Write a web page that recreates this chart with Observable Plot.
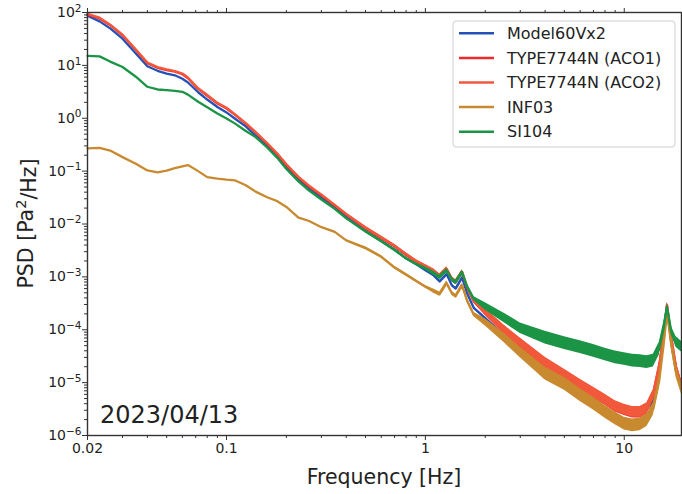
<!DOCTYPE html>
<html><head><meta charset="utf-8">
<script src="https://cdn.jsdelivr.net/npm/d3@7"></script>
<script src="https://cdn.jsdelivr.net/npm/@observablehq/plot@0.6"></script>
<style>body{margin:0;background:#fff;} #chart{width:682px;height:494px;}</style>
</head><body><div id="chart"></div>
<script>
// Frequency grid [Hz]
const freq = [0.02,0.023,0.026,0.03,0.035,0.04,0.045,0.05,0.055,0.06,0.064,0.072,0.08,0.09,0.1,0.11,0.125,0.14,0.16,0.18,0.2,0.23,0.26,0.3,0.35,0.4,0.5,0.6,0.7,0.8,0.9,1.0,1.1,1.18,1.28,1.36,1.42,1.53,1.62,1.75,2.0,2.5,3,4,5,6,7,8,9,10,11,12,13,14,15,15.8,16.4,17.2,18.2,19.5];

// PSD values [Pa^2/Hz]
const model60Vx2 = [87,68,50,32,16.8,9.6,7.9,7.0,6.5,5.6,4.75,3.1,2.26,1.63,1.29,0.99,0.70,0.47,0.30,0.19,0.118,0.069,0.047,0.031,0.0204,0.0135,0.0074,0.0048,0.0033,0.00224,0.00173,0.00133,0.00107,0.00082,0.00112,0.00069,0.0006,0.00097,0.00049,0.00026,0.000165,7.6e-5,4.1e-5,1.78e-5,9.3e-6,5.5e-6,3.5e-6,2.4e-6,1.86e-6,1.55e-6,1.41e-6,1.48e-6,1.95e-6,4.7e-6,1.7e-5,6.9e-5,2.5e-4,6.3e-5,1.7e-5,7.1e-6];
const type7744nACO1 = [91,77,57.5,37,19.5,11,9.0,8.1,7.6,6.8,5.7,3.6,2.66,1.9,1.53,1.17,0.79,0.54,0.33,0.21,0.13,0.076,0.051,0.035,0.0224,0.0151,0.0083,0.0054,0.0038,0.0026,0.00195,0.00158,0.00126,0.00102,0.00138,0.00089,0.00079,0.00122,0.00063,0.00035,0.000214,9.8e-5,5.5e-5,2.3e-5,1.38e-5,8.9e-6,6.3e-6,4.7e-6,3.5e-6,3.0e-6,2.7e-6,2.7e-6,3.2e-6,5.7e-6,1.95e-5,8.5e-5,2.9e-4,7.2e-5,1.95e-5,8.1e-6];
const type7744nACO2 = [94,80,59,38,20,11.3,9.3,8.4,7.8,7.0,5.9,3.7,2.75,1.96,1.58,1.2,0.81,0.55,0.34,0.215,0.135,0.078,0.053,0.036,0.023,0.0155,0.0086,0.0056,0.0039,0.0027,0.002,0.00162,0.0013,0.00105,0.00142,0.00092,0.00081,0.00125,0.00065,0.00036,0.00022,1.0e-4,5.7e-5,2.4e-5,1.42e-5,9.2e-6,6.5e-6,4.8e-6,3.6e-6,3.1e-6,2.8e-6,2.8e-6,3.3e-6,5.9e-6,2.0e-5,8.8e-5,3.0e-4,7.4e-5,2.0e-5,8.3e-6];
const inf03 = [0.27,0.275,0.245,0.184,0.138,0.103,0.095,0.102,0.114,0.123,0.13,0.1,0.077,0.072,0.069,0.067,0.054,0.041,0.032,0.027,0.021,0.0132,0.0114,0.0087,0.0071,0.0049,0.0035,0.0024,0.0015,0.0011,0.00083,0.00065,0.00054,0.00047,0.00076,0.00049,0.00043,0.00069,0.00036,0.000195,0.000138,6.9e-5,3.7e-5,1.48e-5,9.5e-6,5.8e-6,4.0e-6,2.8e-6,2.1e-6,1.68e-6,1.55e-6,1.62e-6,1.95e-6,3.2e-6,1.1e-5,5.5e-5,2.2e-4,5.5e-5,1.6e-5,7.1e-6];
const si104 = [15.1,14.8,11.8,9.3,6.1,3.94,3.5,3.4,3.3,3.16,2.8,2.05,1.62,1.23,0.99,0.80,0.575,0.44,0.28,0.178,0.11,0.064,0.043,0.029,0.0193,0.0128,0.0072,0.0047,0.0032,0.00223,0.00173,0.00145,0.00117,0.00098,0.00132,0.00089,0.00079,0.00122,0.00066,0.00039,0.000275,1.65e-4,1.07e-4,7.1e-5,5.6e-5,4.7e-5,4.0e-5,3.4e-5,3.0e-5,2.8e-5,2.6e-5,2.55e-5,2.45e-5,2.6e-5,4.4e-5,1.12e-4,2.7e-4,9.8e-5,5.9e-5,4.7e-5];

// Half-width of the noisy trace envelope [decades]
const spreadModel60 = [0,0,0,0,0,0,0,0,0,0,0,0,0,0,0,0,0,0,0,0,0.01,0.01,0.01,0.01,0.01,0.01,0.015,0.015,0.015,0.015,0.015,0.015,0.02,0.02,0.02,0.02,0.02,0.02,0.02,0.02,0.03,0.03,0.03,0.03,0.03,0.03,0.03,0.03,0.03,0.03,0.03,0.03,0.03,0.03,0.03,0.03,0.03,0.03,0.03,0.03];
const spreadACO = [0,0,0,0,0,0,0,0,0,0,0,0,0,0,0,0,0,0,0,0,0.01,0.01,0.01,0.01,0.01,0.01,0.025,0.025,0.025,0.025,0.025,0.025,0.04,0.04,0.04,0.04,0.04,0.04,0.04,0.04,0.06,0.08,0.09,0.1,0.1,0.1,0.1,0.1,0.1,0.1,0.1,0.1,0.1,0.1,0.1,0.08,0.05,0.07,0.09,0.09];
const spreadINF03 = [0,0,0,0,0,0,0,0,0,0,0,0,0,0,0,0,0,0,0,0,0.01,0.01,0.01,0.01,0.01,0.01,0.025,0.025,0.025,0.025,0.025,0.025,0.04,0.04,0.04,0.04,0.04,0.04,0.04,0.04,0.07,0.09,0.1,0.12,0.12,0.12,0.12,0.12,0.12,0.12,0.12,0.12,0.12,0.12,0.12,0.1,0.06,0.08,0.1,0.1];
const spreadSI104 = [0,0,0,0,0,0,0,0,0,0,0,0,0,0,0,0,0,0,0,0,0.01,0.01,0.01,0.01,0.01,0.01,0.025,0.025,0.025,0.025,0.025,0.025,0.04,0.04,0.04,0.04,0.04,0.04,0.04,0.04,0.07,0.09,0.1,0.12,0.12,0.12,0.12,0.12,0.12,0.12,0.12,0.12,0.12,0.12,0.12,0.1,0.06,0.08,0.1,0.1];

const seriesNames = ["Model60Vx2","TYPE7744N (ACO1)","TYPE7744N (ACO2)","INF03","SI104"];
const seriesColors = ["#2451b7","#ec2a2c","#f2583b","#c98a2f","#1c9445"];
const seriesValues = [model60Vx2, type7744nACO1, type7744nACO2, inf03, si104];
const seriesSpread = [spreadModel60, spreadACO, spreadACO, spreadINF03, spreadSI104];

const xTicks = [0.02, 0.1, 1, 10];
const xTickLabels = ["0.02","0.1","1","10"];
const yTicks = [1e-6,1e-5,1e-4,1e-3,1e-2,1e-1,1e0,1e1,1e2];
const yTickBase = "10";
const yTickExponents = ["−6","−5","−4","−3","−2","−1","0","1","2"];
const xTitle = "Frequency [Hz]";
const yTitleParts = ["PSD [Pa", "2", "/Hz]"];
const dateLabel = "2023/04/13";

// build table
const rows = [];
seriesNames.forEach((name, i) => {
  freq.forEach((f, j) => {
    const v = seriesValues[i][j], s = seriesSpread[i][j];
    rows.push({name, f, v, lo: v * Math.pow(10, -s), hi: v * Math.pow(10, s)});
  });
});

const xMinor = [], yMinor = [];
for (const d of [0.01, 0.1, 1]) for (let k = 2; k <= 9; k++) { const t = +(d*k).toPrecision(3); if (t > 0.02 && t < 19.4) xMinor.push(t); }
for (let e = -6; e < 2; e++) for (let k = 2; k <= 9; k++) yMinor.push(k * Math.pow(10, e));

const xLab = new Map(xTicks.map((t, i) => [t, xTickLabels[i]]));
const yLab = new Map(yTicks.map((t, i) => [t, yTickBase + "^" + yTickExponents[i]]));

const marks = [];
seriesNames.forEach((name, i) => {
  const data = rows.filter(r => r.name === name);
  marks.push(Plot.areaY(data, {x: "f", y1: "lo", y2: "hi", fill: seriesColors[i]}));
  marks.push(Plot.line(data, {x: "f", y: "v", stroke: seriesColors[i], strokeWidth: 2.3}));
});

const axisColor = "#333";
const plot = Plot.plot({
  width: 682, height: 494,
  marginLeft: 87, marginRight: 1, marginTop: 12, marginBottom: 59,
  style: {fontFamily: "DejaVu Sans", color: "#222", background: "#fff"},
  x: {type: "log", domain: [0.02, 19.4]},
  y: {type: "log", domain: [1e-6, 100]},
  marks: [
    ...marks,
    Plot.frame({stroke: axisColor, strokeWidth: 1.4}),
    Plot.axisX(xTicks, {tickFormat: d => xLab.get(d), tickSize: 5, tickPadding: 3, fontSize: 14, label: null, stroke: axisColor}),
    Plot.axisX(xMinor, {tickFormat: () => "", tickSize: 3, label: null, stroke: axisColor}),
    Plot.axisX(xTicks, {anchor: "top", tickFormat: () => "", tickSize: 5, label: null, stroke: axisColor}),
    Plot.axisX(xMinor, {anchor: "top", tickFormat: () => "", tickSize: 3, label: null, stroke: axisColor}),
    Plot.axisY(yTicks, {tickFormat: d => yLab.get(d), tickSize: 5, tickPadding: 1, fontSize: 14, label: null, stroke: axisColor}),
    Plot.axisY(yMinor, {tickFormat: () => "", tickSize: 3, label: null, stroke: axisColor})
  ]
});
document.getElementById("chart").appendChild(plot);

const svg = d3.select(plot);
// turn "10^e" tick labels into real superscripts
svg.selectAll("text").each(function() {
  const t = d3.select(this);
  const s = this.textContent;
  if (s.indexOf("^") > 0 && this.childElementCount === 0) {
    const [b, e] = s.split("^");
    t.text(null);
    t.append("tspan").text(b);
    t.append("tspan").attr("dy", "-0.5em").attr("font-size", "10.5px").text(e);
  }
});

svg.append("text").attr("x", 384).attr("y", 484).attr("text-anchor", "middle")
  .attr("font-size", 20.5).attr("fill", "#222").attr("font-family", "DejaVu Sans").text(xTitle);
const yt = svg.append("text").attr("transform", "translate(33,223.5) rotate(-90)").attr("text-anchor", "middle")
  .attr("font-size", 20.5).attr("fill", "#222").attr("font-family", "DejaVu Sans");
yt.append("tspan").text(yTitleParts[0]);
yt.append("tspan").attr("dy", "-0.45em").attr("font-size", "14.5px").text(yTitleParts[1]);
yt.append("tspan").attr("dy", "0.45em").text(yTitleParts[2]);
svg.append("text").attr("x", 100).attr("y", 423).attr("font-size", 24).attr("text-anchor", "start")
  .attr("fill", "#222").attr("font-family", "DejaVu Sans").text(dateLabel);

const lg = svg.append("g").attr("font-family", "DejaVu Sans").attr("text-anchor", "start");
lg.append("rect").attr("x", 453).attr("y", 21).attr("width", 222).attr("height", 126).attr("rx", 3)
  .attr("fill", "#fff").attr("fill-opacity", 0.85).attr("stroke", "#cfcfcf").attr("stroke-width", 1);
seriesNames.forEach((name, i) => {
  const yy = 33.3 + i * 24.6;
  lg.append("line").attr("x1", 459).attr("x2", 494).attr("y1", yy).attr("y2", yy)
    .attr("stroke", seriesColors[i]).attr("stroke-width", 2.5);
  lg.append("text").attr("x", 507).attr("y", yy).attr("dy", "0.36em").attr("font-size", 16)
    .attr("text-anchor", "start").attr("fill", "#222").text(name);
});
</script>
</body></html>
